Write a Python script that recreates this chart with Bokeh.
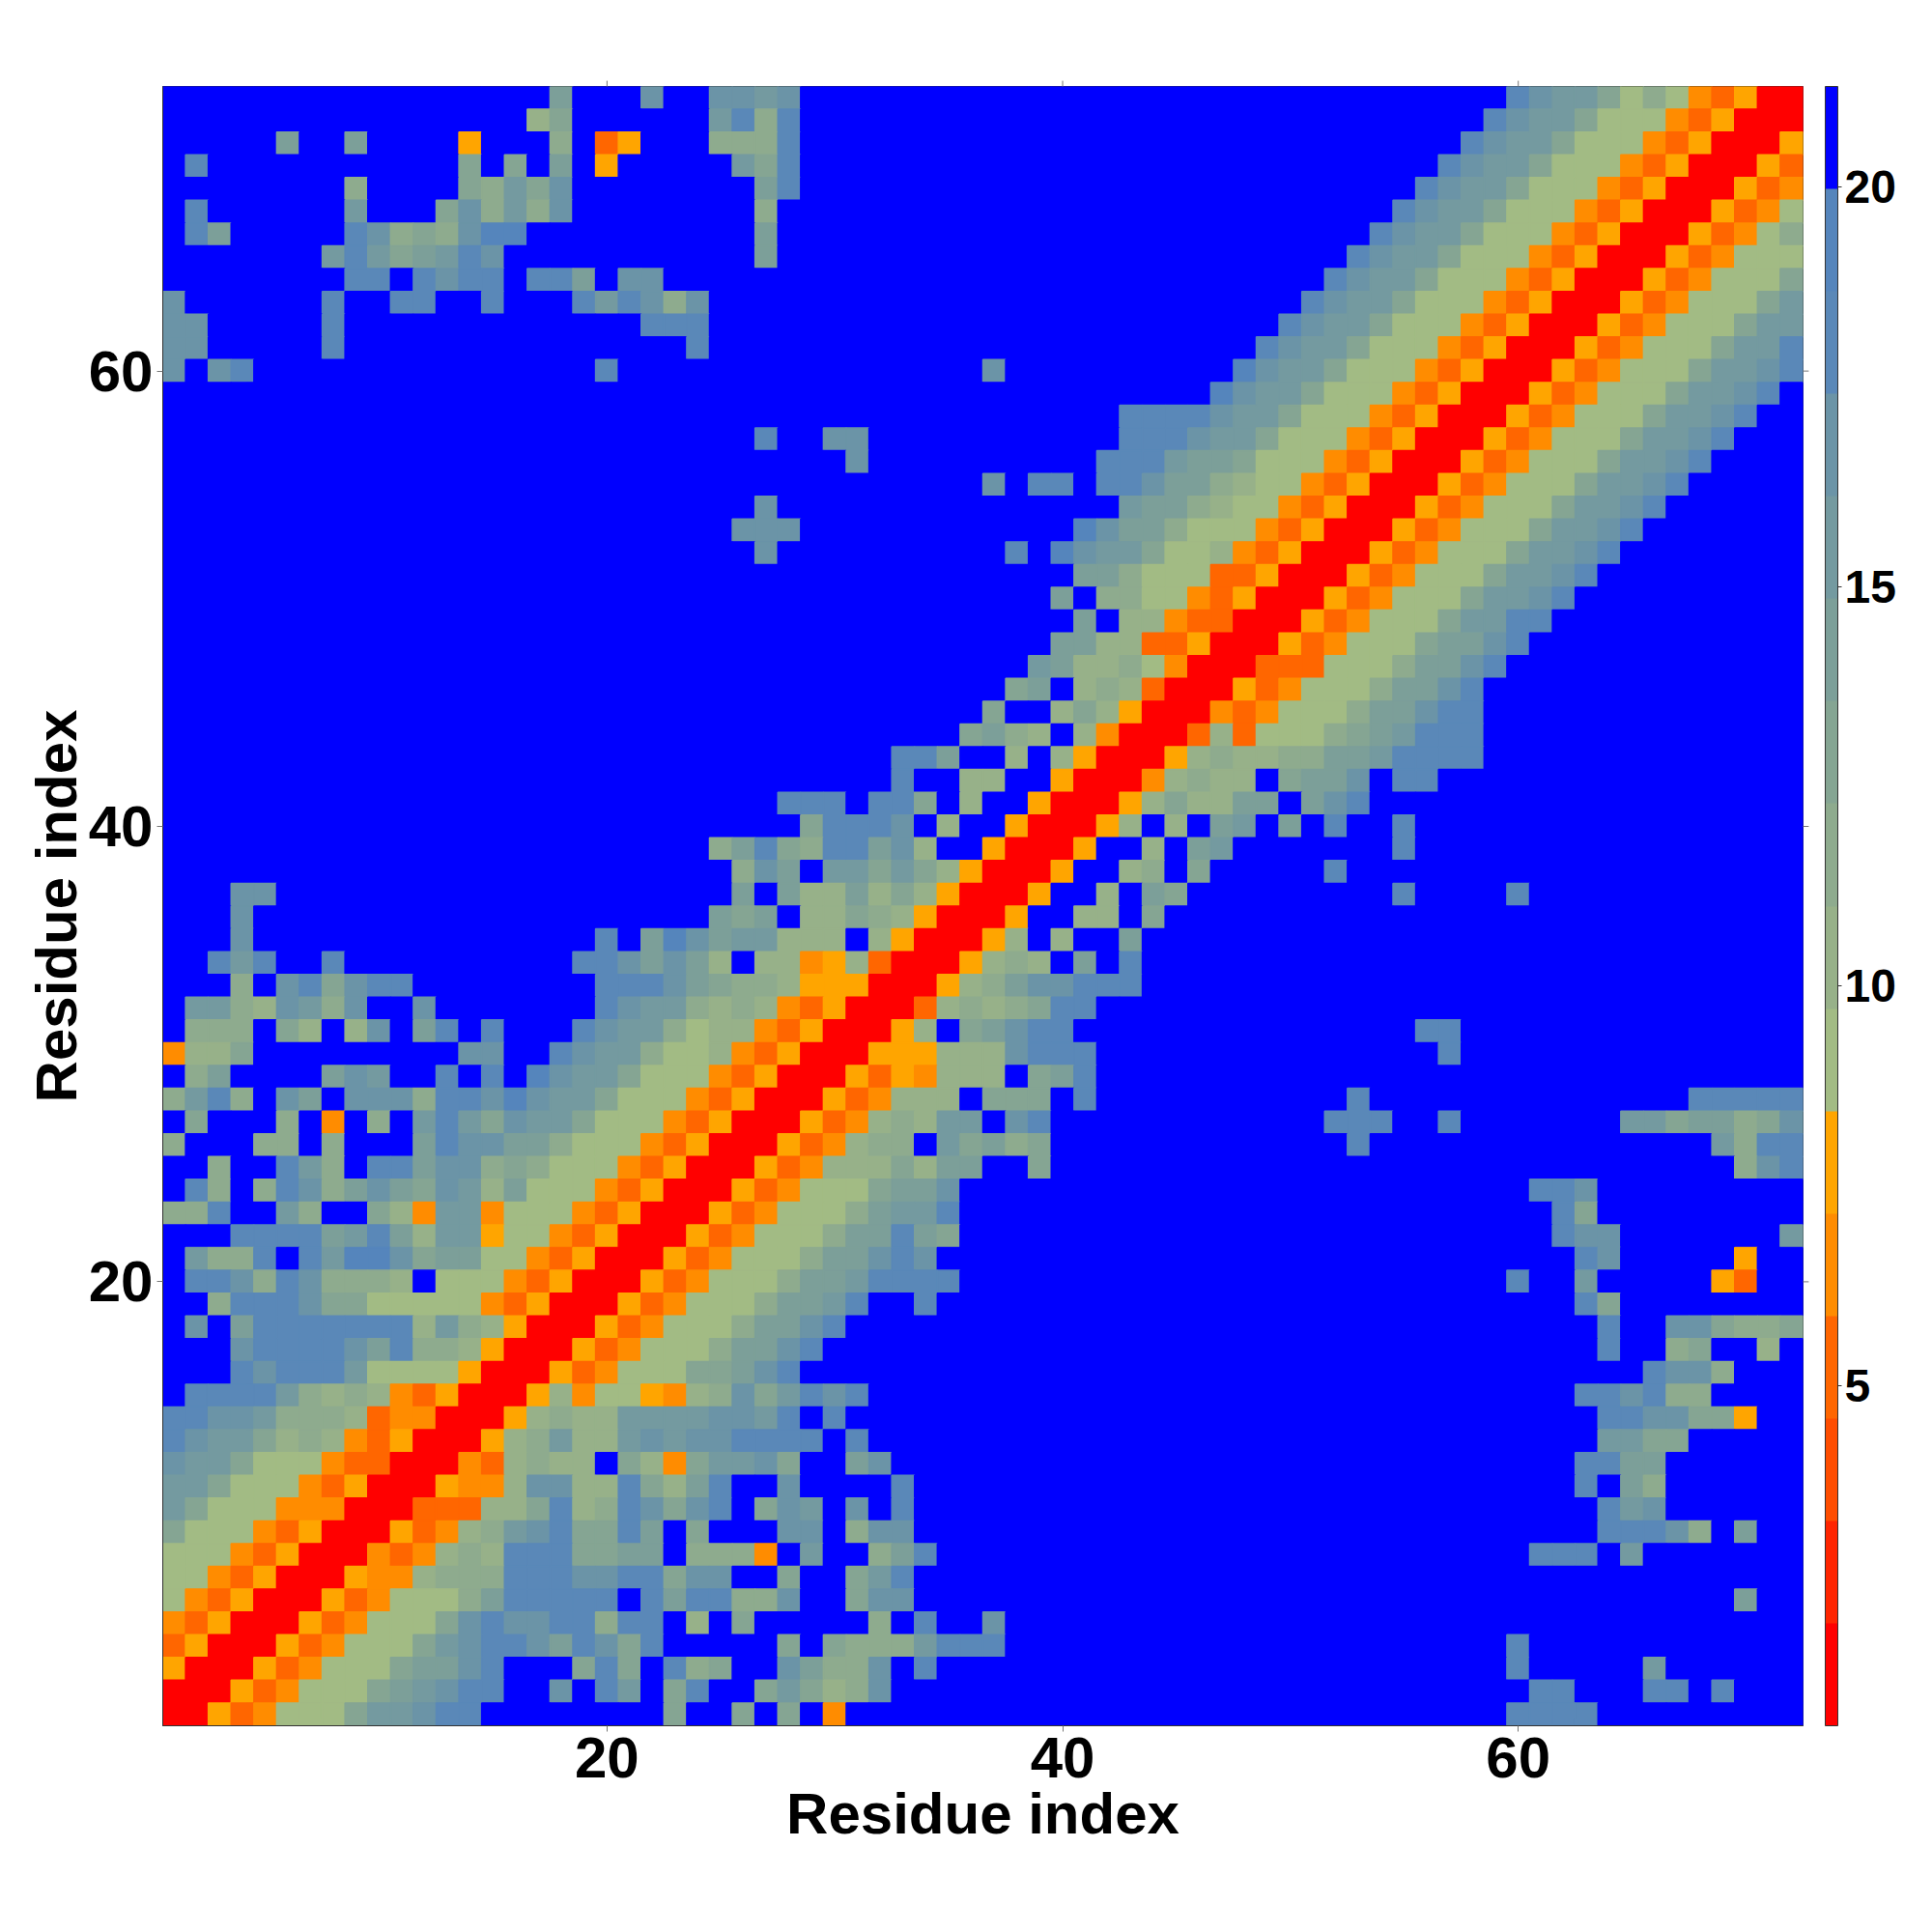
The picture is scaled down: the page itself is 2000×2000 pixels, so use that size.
from bokeh.embed import file_html
from bokeh.resources import INLINE
from bokeh.plotting import figure
from bokeh.models import (ColumnDataSource, LinearColorMapper, ColorBar, FixedTicker, Range1d)
from bokeh.transform import transform

X_TICKS = [20, 40, 60]
Y_TICKS = [20, 40, 60]
BAR_TICKS = [5, 10, 15, 20]
AXIS_TITLE = "Residue index"
LOW, HIGH = 0.74, 21.26
PALETTE = ["#FF0000", "#FF2500", "#FF4D00", "#FF6600", "#FF8C00", "#FFA500",
           "#A2BB84", "#97B189", "#8EAB8E", "#85A593", "#7C9F99", "#749AA0",
           "#6B94A7", "#5A88B8", "#5585BC", "#0000FF"]

# One hex digit per cell = colour band (0 red ... f blue), rows from residue 72 down to 1.
_ = "f" * 24
ROWS = [
 "f"*17+"afffcff" + "ccbc"+"f"*20 + "f"*11+"dcbb968643500",
 "f"*16+"79ffffff" + "bd8d"+"f"*20 + "f"*10+"dcbb9666435000",
 "fffffaffaffff5fff8f35fff" + "888d"+"f"*20 + "f"*9+"dcbb96664350005",
 "fdfffffffffff9f9faf5ffff" + "fb9d"+"f"*20 + "f"*8+"dcbb966643500053",
 "f"*8+"8ffff98b9cffffff" + "ffad"+"f"*20 + "f"*7+"dcbb9666435000534",
 "fdffffffbfff9c8b8cffffff" + "ff8"+"f"*21 + "f"*6+"dcbb96664350005346",
 "fda"+"f"*5+"dc898cee"+"f"*8 + "ffa"+"f"*21 + "f"*5+"dcbb966643500053468",
 "f"*7+"bdb9abdc"+"f"*9 + "ffa"+"f"*21 + "f"*4+"dcbb9666435000534666",
 "f"*8+"ddfdcddfddafccff" + _ + "f"*3+"dcbb96664350005346669",
 "cffffffdffddffdfffdbdc8c" + _ + "ff"+"dcbb96664350005346669b",
 "cc"+"f"*5+"d"+"f"*13+"ddd" + _ + "f"+"dcbb96664350005346669bb",
 "cc"+"f"*5+"d"+"f"*15+"d" + _ + "dcbb96664350005346669bbd",
 "cfcd"+"f"*15+"d"+"ffff" + "f"*12+"c"+"f"*10+"e" + "cbb96664350005346669bbcd",
 _ + "f"*22+"ec" + "bb96664350005346669bbcdf",
 _ + "f"*18+"ddddcb" + "b96664350005346669bbcdff",
 _ + "ffd"+"ff"+"cc"+"f"*11+"dddcbb" + "96664350005346669bbcdfff",
 _ + "f"*6+"c"+"f"*10+"dddbaa9" + "6664350005346669bbcdffff",
 _ + "f"*12+"c"+"f"+"dd"+"f"+"ddcaa87" + "664350005346669bbcdfffff",
 _ + "ffc"+"f"*15+"baa876" + "64350005346669bbcdffffff",
 _ + "fccc"+"f"*12+"ecaa8666" + "4350005346669bbcd"+"f"*7,
 _ + "ffc"+"f"*10+"df"+"ecbb96674" + "350005346669bbcd"+"f"*8,
 _ + "f"*16+"aa866633" + "50005346669bbcd"+"f"*9,
 _ + "f"*15+"af8866435" + "0005346669bbcd"+"f"*10,
 _ + "f"*16+"af774330" + "005346669bbdd"+"f"*11,
 _ + "f"*15+"aa7733500" + "05346669aacd"+"f"*12,
 _ + "f"*14+"ba77864000" + "3336668aacd"+"f"*13,
 _ + "f"*13+"9af78730005" + "346668aacd"+"f"*14,
 _ + "f"*12+"9ff797500043" + "46668aacdd"+"f"*14,
 _ + "f"*11+"9a87f74000373" + "66689abddd"+"f"*14,
 _ + "f"*8+"ddaff7f750005787" + "788aabdddd"+"f"*14,
 _ + "f"*8+"dff77ff500047877" + "f9aacfdd"+"f"*16,
 _ + "fffdddfdd9f7ff500057977a" + "afacd"+"f"*19,
 _ + "ffff9dddcf7ff500057f7fab" + "fafdffd"+"f"*17,
 _ + "8ad98ddac7ff50005ff7fabf" + "f"*6+"d"+"f"*17,
 _ + "f8cafbb9b9750005ff78f9ff" + "fffd"+"f"*20,
 "fffcc"+"f"*19 + "fafa77a79750005ff7fa9fff" + "f"*6+"d"+"ffff"+"d"+"f"*12,
 "fffc"+"f"*20 + "a9af7798750005ff77f9ffff" + _,
 "fffc"+"f"*15+"d"+"f"+"aec" + "abb777f7500057f7ffafffff" + _,
 "ff"+"dbd"+"ff"+"d"+"f"*10+"ddcaca" + "7f7745730005787fafdfffff" + _,
 "fff"+"8fcd9cdd"+"f"*8+"dddca" + "9887555000578accdddfffff" + _,
 "f"+"bb87cb8c"+"ff"+"c"+"f"*7+"dcbb8" + "787435000378789dd"+"f"*7 + _,
 "f888f97f7cfadfdfffdcbb86" + "7743500057f9acdd"+"f"*8 + "f"*7+"dd"+"f"*15,
 "4779"+"f"*9+"cc"+"ff"+"dcbb866" + "7435000555777cddd"+"f"*7 + "f"*8+"d"+"f"*15,
 "f8affffacbffdfdfecbb9666" + "4350005354777f9ad"+"f"*7 + _,
 "8bd8fcafccc8ddcecbb96664" + "35000534777f999fd"+"f"*7 + "ffffd"+"f"*14+"ddddd",
 "f9fff8f4f8fbdb9cbb966643" + "5000534787bbfcd"+"f"*9 + "fffdddffd"+"f"*7+"bb9aa89c",
 "8fff88f8fffadccaa8666435" + "000534788fb9a89"+"f"*9 + "ffffd"+"f"*15+"b8dd",
 "ff8ffdb8fddacc8986664350" + "0053477797aaff9"+"f"*9 + "f"*21+"8cd",
 "fd8f8dc8aca9cb7a66643500" + "05346669aac"+"f"*13 + "f"*12+"ddc"+"f"*9,
 "88dffb8ff974bb4666435000" + "5346668abbd"+"f"*13 + "f"*13+"d9"+"f"*9,
 "fffddddabda7bb5664350005" + "346668aada9"+"f"*13 + "f"*13+"dcc"+"f"*7+"b",
 "fb88dfdbeec9aa6643500053" + "46668aacdc"+"f"*14 + "f"*14+"dc"+"f"*5+"5ff",
 "fddc8dc8887f666435000534" + "6668aabdddd"+"f"*13 + "f"*11+"dffb"+"f"*5+"53ff",
 "ff8dddc99666664350005346" + "668aabdffd"+"f"*14 + "f"*14+"d9"+"f"*8,
 "fcfaddddddd7b87500053466" + "68aacd"+"f"*18 + "f"*15+"dffcc9889",
 "fffcddddcad8875000534666" + "8aacd"+"f"*19 + "f"*15+"dff89ff7f",
 "fffdcdddb666650005346669" + "9acd"+"f"*20 + "f"*17+"dcc8fff",
 "fddddb878743500057466547" + "8c9bdcd"+"f"*17 + "f"*14+"ddcd88ffff",
 "ddccb888734400057877bbbb" + "ccbdfd"+"f"*18 + "f"*15+"ddcc995ff",
 "dcbb9787435000578b77bcbc" + "cddddfd"+"f"*17 + "f"*15+"bb99"+"f"*5,
 "cbb9666433000437877f9749" + "bbc9ffac"+"f"*16 + "f"*14+"ddaa"+"f"*6,
 "bb96664350005447cc77d97a" + "dffcffffd"+"f"*15 + "f"*14+"dfa8"+"f"*6,
 "b9666444000333779d78dc9c" + "df9cbfcfd"+"f"*15 + "f"*15+"dbc"+"f"*6,
 "966643500053478bcd99daf9" + "fffccf8cc"+"f"*15 + "f"*15+"dddc8faff",
 "666435000434787ddd99aaf8" + "884fbff8ad"+"f"*14 + "f"*12+"dddfb"+"f"*7,
 "664350005447888dddccdd9c" + "cff9ff9bd"+"f"*15 + _,
 "64350005346668adddddfdad" + "d88cff9cc"+"f"*15 + "f"*21+"aff",
 "4350005346669cdccdd8ddf7" + "f9fffff8fdffc"+"f"*11 + _,
 "350005346669bcddcadc9dff" + "fff9f9888bddd"+"f"*11 + "f"*11+"d"+"f"*12,
 "50005346669aacdfff9d9fd8" + "9ffca88cfd"+"f"*14 + "f"*11+"dfffffb"+"f"*6,
 "0005346669abcddffcfdbf9d" + "ff9b978c"+"f"*16 + "f"*12+"ddfffddfdfff",
 "005346669bbcddffffffff9f" + "f9f9f4"+"f"*18 + "f"*11+"dddd"+"f"*9,
]
assert len(ROWS) == 72
for i, r in enumerate(ROWS):
    assert len(r) == 72, (72 - i, len(r))

band = (HIGH - LOW) / 16
xs, ys, vals = [], [], []
for i, r in enumerate(ROWS):
    for j, ch in enumerate(r):
        xs.append(j + 1)
        ys.append(72 - i)
        vals.append(LOW + (int(ch, 16) + 0.5) * band)

mapper = LinearColorMapper(palette=PALETTE, low=LOW, high=HIGH)
FONT = "Liberation Sans"

p = figure(width=1984, height=1984, output_backend="svg", toolbar_location=None,
           x_range=Range1d(0.5, 72.5), y_range=Range1d(0.5, 72.5),
           min_border_left=168, min_border_right=118, min_border_top=89, min_border_bottom=198,
           outline_line_color="#333333", outline_line_width=1, background_fill_color="#0000FF")
p.grid.visible = False
src = ColumnDataSource(dict(x=xs, y=ys, v=vals))
p.rect("x", "y", 1, 1, source=src, fill_color=transform("v", mapper),
       line_color=transform("v", mapper), line_width=1.5)

for ax in (p.xaxis[0], p.yaxis[0]):
    ax.axis_label = AXIS_TITLE
    ax.ticker = FixedTicker(ticks=X_TICKS)
    ax.major_label_text_font = FONT
    ax.major_label_text_font_style = "bold"
    ax.major_label_text_font_size = "60px"
    ax.major_label_text_color = "black"
    ax.axis_label_text_font = FONT
    ax.axis_label_text_font_style = "bold"
    ax.axis_label_text_font_size = "60px"
    ax.axis_label_text_color = "black"
    ax.major_tick_in = 0
    ax.major_tick_out = 6
    ax.minor_tick_in = 0
    ax.minor_tick_out = 0
    ax.major_tick_line_color = "#777777"
    ax.axis_line_color = "#333333"
p.xaxis[0].major_label_standoff = 6
p.xaxis[0].axis_label_standoff = 1
p.yaxis[0].major_label_standoff = 4
p.yaxis[0].axis_label_standoff = -3
p.yaxis[0].major_label_orientation = "horizontal"

# short outward ticks on the top and right edges, drawn without any label
TICK_LEN = 0.25
p.segment(X_TICKS, [72.5] * 3, X_TICKS, [72.5 + TICK_LEN] * 3, line_color="#777777", line_width=1, level="overlay")
p.segment([72.5] * 3, Y_TICKS, [72.5 + TICK_LEN] * 3, Y_TICKS, line_color="#777777", line_width=1, level="overlay")

cb = ColorBar(color_mapper=mapper, ticker=FixedTicker(ticks=BAR_TICKS), location=(1721, 0),
              width=13, height=1697, padding=0, margin=0, background_fill_alpha=0,
              border_line_color=None,
              major_tick_in=0, major_tick_out=4, major_tick_line_color="#333333",
              minor_tick_line_color=None, bar_line_color="#333333", bar_line_width=1, label_standoff=3,
              major_label_text_font=FONT, major_label_text_font_style="bold",
              major_label_text_font_size="48px", major_label_text_color="black")
p.add_layout(cb)

open("out.html", "w").write(file_html(p, INLINE))
